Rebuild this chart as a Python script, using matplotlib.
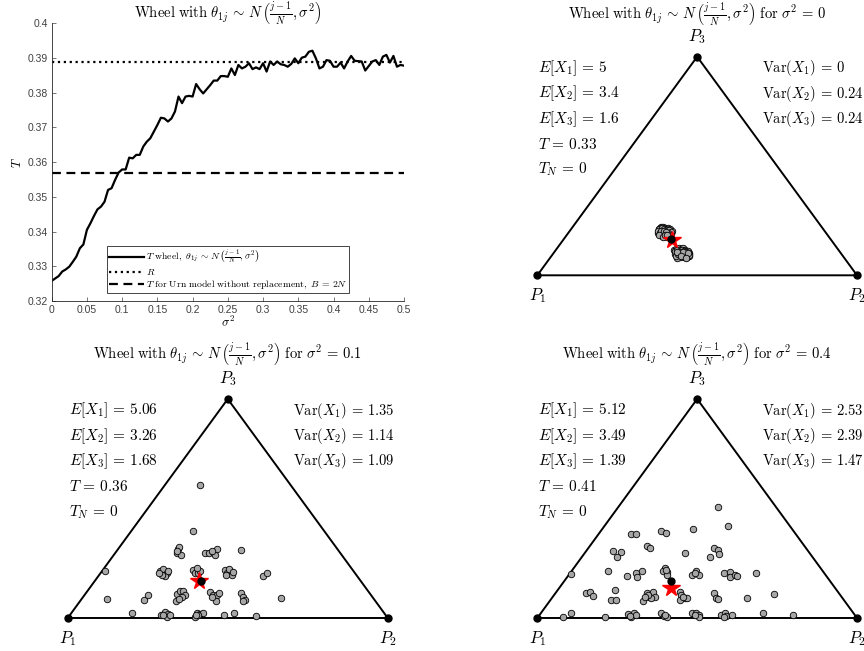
import numpy as np
import matplotlib
matplotlib.use("Agg")
import matplotlib.pyplot as plt

plt.rcParams["font.family"] = ["Liberation Sans", "DejaVu Sans"]
plt.rcParams["mathtext.fontset"] = "cm"

# --- Data: T as a function of sigma^2 ---------------------------------
sigma2 = np.linspace(0, 0.5, 101)
T_wheel = [
    0.3258, 0.3265, 0.3272, 0.3285, 0.3291, 0.3299, 0.3313, 0.3328, 0.3352, 0.3363,
    0.3405, 0.3424, 0.3445, 0.3464, 0.3472, 0.3486, 0.3520, 0.3525, 0.3549, 0.3570,
    0.3579, 0.3579, 0.3613, 0.3611, 0.3621, 0.3621, 0.3645, 0.3659, 0.3669, 0.3688,
    0.3707, 0.3728, 0.3726, 0.3717, 0.3726, 0.3746, 0.3789, 0.3770, 0.3789, 0.3791,
    0.3789, 0.3825, 0.3810, 0.3798, 0.3810, 0.3822, 0.3835, 0.3835, 0.3848, 0.3848,
    0.3846, 0.3870, 0.3851, 0.3880, 0.3870, 0.3875, 0.3885, 0.3868, 0.3873, 0.3868,
    0.3885, 0.3861, 0.3890, 0.3880, 0.3890, 0.3882, 0.3880, 0.3875, 0.3883, 0.3899,
    0.3885, 0.3901, 0.3904, 0.3918, 0.3921, 0.3899, 0.3870, 0.3875, 0.3894, 0.3892,
    0.3875, 0.3875, 0.3887, 0.3870, 0.3890, 0.3906, 0.3892, 0.3891, 0.3890, 0.3864,
    0.3877, 0.3890, 0.3894, 0.3880, 0.3904, 0.3909, 0.3887, 0.3906, 0.3875, 0.3880,
    0.3878,
]
R_value = 0.3888
T_urn = 0.3568

# --- Data: simplex panels (points in triangle coordinates) ------------
# sigma^2 = 0
x_s0 = [0.380, 0.386, 0.393, 0.400, 0.408, 0.415, 0.421, 0.384, 0.391, 0.399,
        0.406, 0.413, 0.379, 0.387, 0.395, 0.403, 0.411, 0.390, 0.398, 0.405,
        0.418, 0.383, 0.409, 0.396,
        0.382, 0.389, 0.397, 0.404, 0.411, 0.418, 0.377, 0.385, 0.393, 0.401,
        0.409, 0.416, 0.388, 0.395, 0.402, 0.410, 0.381, 0.392, 0.400, 0.407,
        0.429, 0.435, 0.442, 0.449, 0.456, 0.463, 0.470, 0.476, 0.432, 0.439,
        0.446, 0.453, 0.460, 0.467, 0.474, 0.437, 0.451, 0.465,
        0.431, 0.438, 0.445, 0.452, 0.459, 0.466, 0.473, 0.434, 0.441, 0.448,
        0.455, 0.462, 0.469, 0.476, 0.444, 0.457, 0.471, 0.436, 0.450, 0.464]
y_s0 = [0.182, 0.190, 0.191, 0.189, 0.186, 0.182, 0.176, 0.173, 0.178, 0.183,
        0.176, 0.170, 0.166, 0.160, 0.167, 0.158, 0.162, 0.154, 0.157, 0.152,
        0.164, 0.187, 0.180, 0.170,
        0.185, 0.188, 0.184, 0.180, 0.178, 0.172, 0.176, 0.168, 0.163, 0.165,
        0.169, 0.158, 0.174, 0.177, 0.171, 0.155, 0.158, 0.150, 0.160, 0.161,
        0.100, 0.106, 0.108, 0.104, 0.107, 0.102, 0.097, 0.090, 0.086, 0.080,
        0.073, 0.077, 0.071, 0.081, 0.075, 0.070, 0.092, 0.088,
        0.096, 0.100, 0.097, 0.099, 0.096, 0.094, 0.086, 0.078, 0.084, 0.081,
        0.086, 0.078, 0.073, 0.080, 0.091, 0.092, 0.090, 0.092, 0.076, 0.069]
E_s0 = [5, 3.4, 1.6]
V_s0 = ["0", "0.24", "0.24"]

# sigma^2 = 0.1
x_s1 = [0.4135, 0.3906, 0.5406, 0.1167, 0.1219, 0.2385, 0.2521, 0.6667, 0.2000,
        0.4896, 0.5208, 0.5885, 0.6094, 0.6219,
        0.3458, 0.3406, 0.3542, 0.3479, 0.3427,
        0.4292, 0.4427, 0.4552, 0.4656, 0.4604, 0.4500,
        0.2885, 0.2990, 0.3094, 0.3042, 0.3146, 0.2938, 0.2865,
        0.3927, 0.3979, 0.4083, 0.4135, 0.4031,
        0.4917, 0.4990, 0.5073, 0.5125, 0.4948, 0.5052, 0.5156,
        0.3406, 0.3510, 0.3615, 0.3677, 0.3563, 0.3385, 0.3490,
        0.4448, 0.4552, 0.4656, 0.4635, 0.4500, 0.4719,
        0.5406, 0.5490, 0.5552, 0.5469,
        0.2906, 0.3042, 0.3146, 0.3094, 0.2990, 0.3198,
        0.3979, 0.4031, 0.4135, 0.4240, 0.4083, 0.4010]
y_s1 = [0.5246, 0.3453, 0.2702, 0.1845, 0.0764, 0.0725, 0.0896, 0.0791, 0.0198,
        0.0132, 0.0198, 0.0066, 0.1648, 0.1779,
        0.2741, 0.2570, 0.2504, 0.2794, 0.2662,
        0.2557, 0.2583, 0.2596, 0.2741, 0.2504, 0.2636,
        0.1845, 0.1924, 0.1766, 0.1648, 0.1845, 0.1713, 0.1779,
        0.1911, 0.1779, 0.1779, 0.1872, 0.1977,
        0.1911, 0.1779, 0.1845, 0.1713, 0.1687, 0.1951, 0.1819,
        0.0949, 0.1054, 0.1054, 0.0923, 0.0817, 0.0659, 0.0764,
        0.1028, 0.0923, 0.0896, 0.0685, 0.0844, 0.1002,
        0.0989, 0.0817, 0.0725, 0.0659,
        0.0105, 0.0237, 0.0158, 0.0053, 0.0132, 0.0105,
        0.0053, 0.0198, 0.0158, 0.0185, 0.0105, 0.0132]
E_s1 = [5.06, 3.26, 1.68]
V_s1 = ["1.35", "1.14", "1.09"]

# sigma^2 = 0.4
x_s4 = [0.5656, 0.5969, 0.4875, 0.3854, 0.4021, 0.2917, 0.3083, 0.3438, 0.3521,
        0.2354, 0.2604, 0.2500, 0.5521, 0.5656, 0.5688, 0.5417, 0.4615,
        0.1052, 0.2198, 0.2792, 0.3083, 0.3260, 0.3125,
        0.3990, 0.4042, 0.3938, 0.4063, 0.4021,
        0.4854, 0.4979, 0.5063, 0.4927,
        0.5833, 0.6021, 0.6042, 0.6177, 0.6250, 0.6854,
        0.1531, 0.1635, 0.1740, 0.2438, 0.2313, 0.2469,
        0.3302, 0.3438, 0.3479, 0.3615, 0.3667, 0.3542, 0.3458, 0.3375,
        0.4448, 0.4500, 0.4604, 0.4688, 0.4448, 0.4552,
        0.5521, 0.5594, 0.5646, 0.6563, 0.7396,
        0.1063, 0.0802, 0.2104,
        0.2833, 0.2938, 0.3021, 0.3094, 0.2885,
        0.3875, 0.3958, 0.4063, 0.4000,
        0.4833, 0.4969, 0.5042, 0.5073, 0.4917,
        0.5750, 0.5875, 0.5906, 0.6083, 0.5833,
        0.7052, 0.7990]
y_s4 = [0.4402, 0.3638, 0.3506, 0.3453, 0.3348, 0.3308, 0.3308, 0.2847, 0.2755,
        0.2662, 0.2623, 0.2425, 0.2755, 0.2689, 0.2531, 0.2425, 0.2557,
        0.1727, 0.1872, 0.1661, 0.1792, 0.1872, 0.1608,
        0.1964, 0.1832, 0.1872, 0.1700, 0.1898,
        0.1700, 0.1872, 0.1700, 0.1792,
        0.1766, 0.1832, 0.1634, 0.1700, 0.1661, 0.1766,
        0.0975, 0.1041, 0.0883, 0.1107, 0.0712, 0.0712,
        0.0685, 0.0975, 0.0844, 0.1041, 0.0844, 0.0778, 0.0909, 0.0817,
        0.1041, 0.0909, 0.0778, 0.0778, 0.0712, 0.0844,
        0.1002, 0.0804, 0.0738, 0.0804, 0.0936,
        0.0211, 0.0026, 0.0053,
        0.0145, 0.0053, 0.0185, 0.0119, 0.0079,
        0.0211, 0.0079, 0.0053, 0.0119,
        0.0211, 0.0185, 0.0119, 0.0053, 0.0119,
        0.0119, 0.0185, 0.0079, 0.0119, 0.0053,
        0.0185, 0.0119]
E_s4 = [5.12, 3.49, 1.39]
V_s4 = ["2.53", "2.39", "1.47"]

T_panels = ["0.33", "0.36", "0.41"]
sigma_panels = ["0", "0.1", "0.4"]
ref_point = (0.417, 0.145)  # black reference dot
N_balls = 10

H = np.sqrt(3) / 2
wheel_tex = r"\theta_{1j}\,\sim\,N\,\left(\frac{j-1}{N},\sigma^2\right)"

fig = plt.figure(figsize=(8.64, 6.51), dpi=100)

# --- Top left: T vs sigma^2 -------------------------------------------
ax = fig.add_axes([0.0598, 0.5376, 0.4078, 0.4266])
ax.plot(sigma2, T_wheel, "k-", lw=1.6,
        label=r"$T\ \mathrm{wheel},\ " + wheel_tex + "$")
ax.axhline(R_value, color="k", ls=":", lw=1.6, label=r"$R$")
ax.axhline(T_urn, color="k", ls="--", lw=1.6, dashes=(4, 2.5),
           label=r"$T\ \mathrm{for\ Urn\ model\ without\ replacement},\ B\,=\,2N$")
ax.set_xlim(0, 0.5)
ax.set_ylim(0.32, 0.4)
ax.set_xticks(np.arange(0, 0.51, 0.05))
ax.set_xticklabels(["0", "0.05", "0.1", "0.15", "0.2", "0.25", "0.3",
                    "0.35", "0.4", "0.45", "0.5"])
ax.set_yticks(np.arange(0.32, 0.401, 0.01))
ax.set_yticklabels(["0.32", "0.33", "0.34", "0.35", "0.36", "0.37",
                    "0.38", "0.39", "0.4"])
ax.tick_params(direction="in", length=3, width=0.5, labelsize=7.5,
               colors="0.25", pad=3)
for side in ["top", "right"]:
    ax.spines[side].set_visible(False)
for side in ["left", "bottom"]:
    ax.spines[side].set_linewidth(0.6)
    ax.spines[side].set_color("0.15")
ax.set_xlabel(r"$\sigma^2$", fontsize=9, labelpad=0)
ax.set_ylabel(r"$T$", fontsize=9, labelpad=2)
fig.text(0.2638, 0.981, r"$\mathrm{Wheel\ with\ }" + wheel_tex + "$",
         ha="center", va="center", fontsize=10.5)
leg = ax.legend(loc="lower left", bbox_to_anchor=(0.156, 0.028),
                borderaxespad=0, fontsize=7, handlelength=3.6,
                handletextpad=0.2, borderpad=0.2, labelspacing=0.1,
                fancybox=False, framealpha=1, edgecolor="0.15")
leg.get_frame().set_linewidth(0.6)

# --- Simplex panels ---------------------------------------------------
panels = [
    ([0.6219, 0.5771, 0.3700, 0.3358], x_s0, y_s0, E_s0, V_s0, 1.036),
    ([0.0784, 0.0507, 0.3704, 0.3364], x_s1, y_s1, E_s1, V_s1, 1.045),
    ([0.6219, 0.0507, 0.3700, 0.3364], x_s4, y_s4, E_s4, V_s4, 1.045),
]

for k, (pos, xs, ys, E, V, title_y) in enumerate(panels):
    a = fig.add_axes(pos)
    a.set_xlim(0, 1)
    a.set_ylim(0, H)
    a.axis("off")

    a.plot([0, 1, 0.5, 0], [0, 0, H, 0], "k-", lw=1.4, clip_on=False)
    a.plot([0, 1, 0.5], [0, 0, H], "ko", ms=5, clip_on=False)

    a.scatter(xs, ys, s=22, facecolor="#a6a6a6", edgecolor="k",
              linewidth=0.6, zorder=3, clip_on=False)

    # mean position: E[X1]*P1 + E[X2]*P2 + E[X3]*P3
    star_x = (E[1] + 0.5 * E[2]) / N_balls
    star_y = E[2] * H / N_balls
    a.plot(star_x, star_y, "*", color="red", ms=13, mec="red",
           zorder=4, clip_on=False)
    a.plot(ref_point[0], ref_point[1], "ko", ms=5, zorder=5, clip_on=False)

    a.text(0.5, H + 0.08, r"$P_3$", ha="center", va="center", fontsize=12)
    a.text(0, -0.08, r"$P_1$", ha="center", va="center", fontsize=12)
    a.text(1, -0.08, r"$P_2$", ha="center", va="center", fontsize=12)

    rows = [r"$E[X_1]\,=\,%g$" % E[0], r"$E[X_2]\,=\,%g$" % E[1],
            r"$E[X_3]\,=\,%g$" % E[2], r"$T\,=\,%s$" % T_panels[k],
            r"$T_N\,=\,0$"]
    for i, s in enumerate(rows):
        a.text(0.003, 0.82 - 0.1 * i, s, ha="left", va="center", fontsize=11)
    for i in range(3):
        a.text(0.703, 0.82 - 0.1 * i,
               r"$\mathrm{Var}(X_%d)\,=\,%s$" % (i + 1, V[i]),
               ha="left", va="center", fontsize=10.5)

    a.text(0.5, title_y,
           r"$\mathrm{Wheel\ with\ }" + wheel_tex +
           r"\ \mathrm{for}\ \sigma^2\,=\," + sigma_panels[k] + "$",
           ha="center", va="center", fontsize=10.5)

fig.savefig("out.png", dpi=100)
